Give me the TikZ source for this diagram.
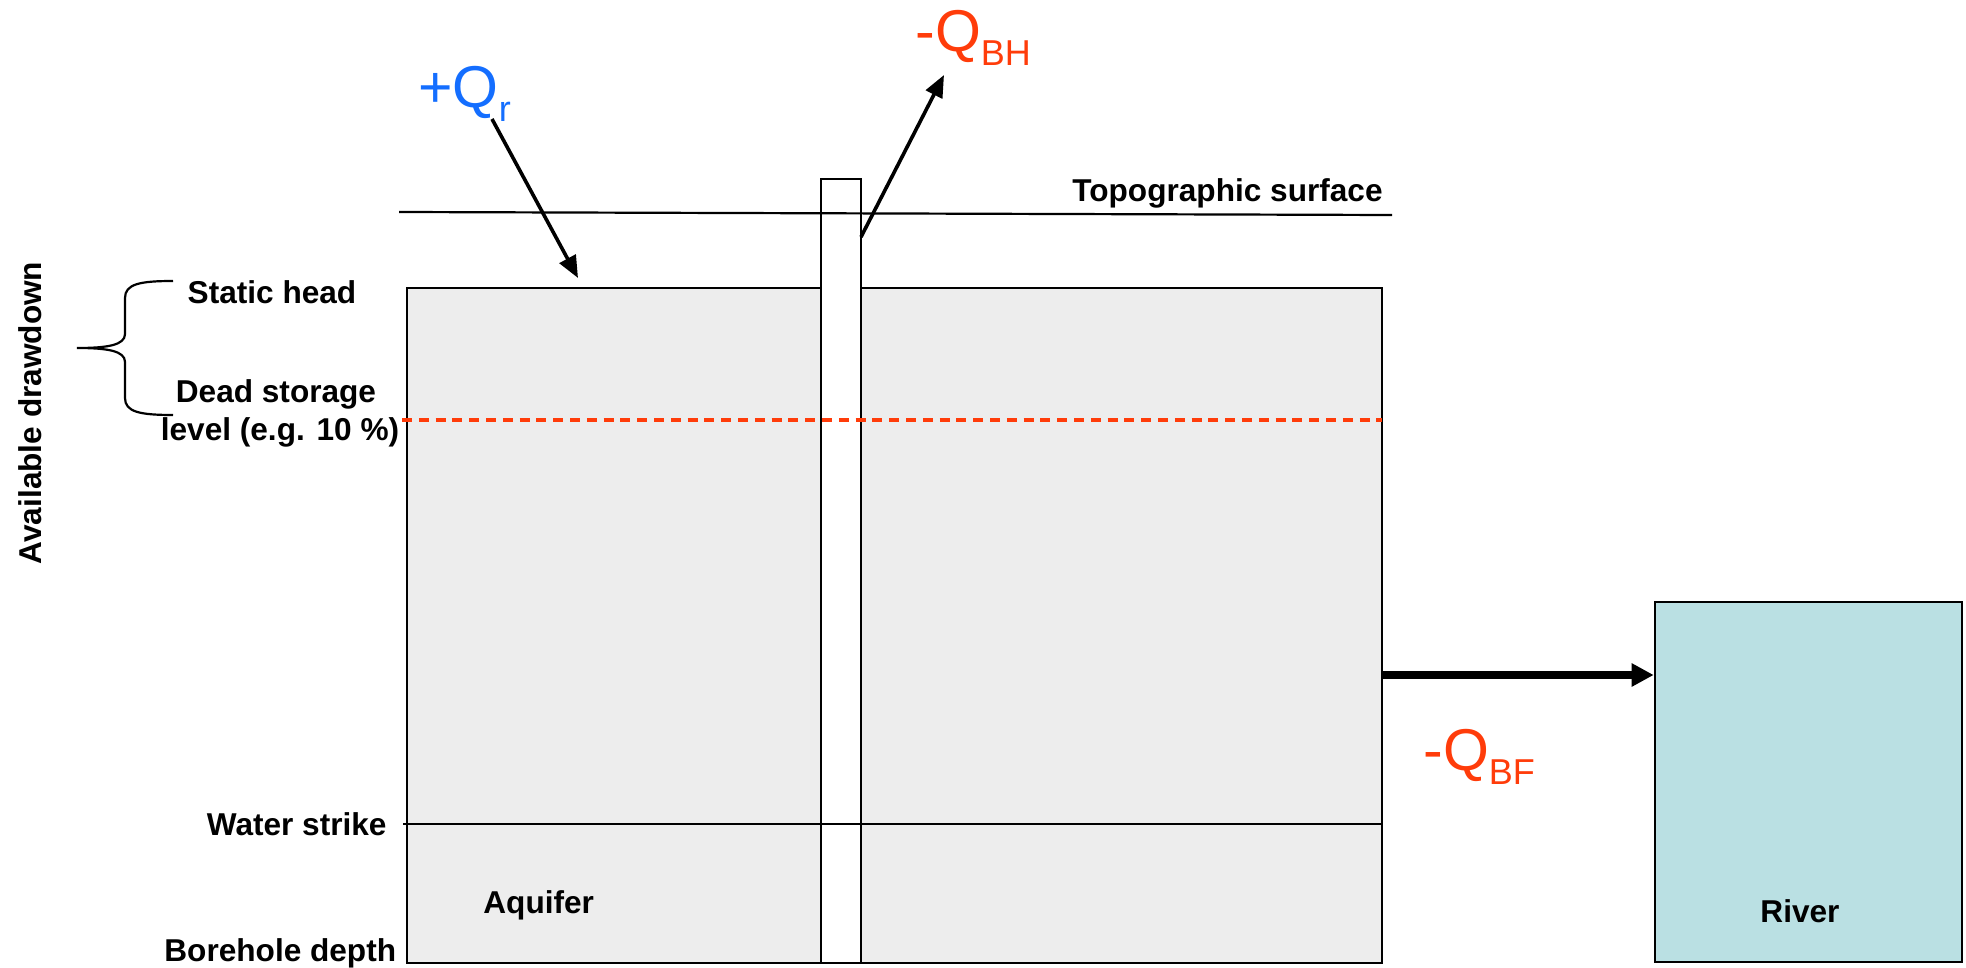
\documentclass[tikz,border=0pt]{standalone}
\usepackage{fontspec}
\setmainfont{Liberation Sans}
\usetikzlibrary{arrows.meta}
\definecolor{qblue}{RGB}{20,110,255}
\definecolor{qred}{RGB}{255,60,10}
\definecolor{riverfill}{RGB}{186,224,227}
\definecolor{aqfill}{RGB}{237,237,237}
\newcommand\qsub[1]{\raisebox{-7pt}{\fontsize{18}{20}\selectfont #1}}
\begin{document}
\begin{tikzpicture}[x=0.5pt,y=-0.5pt,
  lbl/.style={inner sep=0pt, font=\fontsize{15.8}{19}\selectfont\bfseries},
  qlbl/.style={inner sep=0pt, anchor=base west, font=\fontsize{29.5}{34}\selectfont},
  flow/.style={line width=1.8pt, -{Triangle[length=11pt,width=9pt]}},
  thinline/.style={line width=1.1pt},
  ]
\useasboundingbox (0,0) rectangle (1966,968);

% aquifer block
\node[draw, line width=1.2pt, fill=aqfill, minimum width=487.5pt, minimum height=337.5pt, inner sep=0pt] (aquifer) at (894.5,625.5) {};
% borehole
\node[draw, line width=1.1pt, fill=white, minimum width=20pt, minimum height=392pt, inner sep=0pt] (borehole) at (841,571) {};
% river
\node[draw, line width=1.3pt, fill=riverfill, minimum width=153.5pt, minimum height=180pt, inner sep=0pt] (river) at (1808.5,782) {};

% lines
\coordinate (topoL) at (399,212);
\coordinate (topoR) at (1392,215);
\draw[thinline] (topoL) -- (topoR);
\coordinate (deadL) at (402,420);
\coordinate (deadR) at (1382,420);
\draw[qred, line width=1.75pt, dash pattern=on 5pt off 3.4pt] (deadL) -- (deadR);
\coordinate (wsL) at (403,824);
\coordinate (wsR) at (1382,824);
\draw[thinline] (wsL) -- (wsR);

% labels
\node[lbl, anchor=base east] (topo) at (1383,202) {Topographic surface};
\node[lbl, anchor=base] (static) at (272,304) {Static head};
\node[lbl, anchor=base] (dead1) at (276,402) {Dead storage};
\node[lbl, anchor=base] (dead2) at (280,440) {level (e.g. 10 \%)};
\node[lbl, anchor=base east] (wstrike) at (387,835) {Water strike};
\node[lbl, anchor=base west] (bdepth) at (164,961) {Borehole depth};
\node[lbl, anchor=base west] (aqlbl) at (483,913) {Aquifer};
\node[lbl, anchor=base] (rivlbl) at (1800,922) {River};
\node[lbl, anchor=base, rotate=90] (avail) at (41,413) {Available drawdown};

% brace
\draw[thinline] (173,281) .. controls (140,281) and (125,284) .. (125,298) -- (125,334)
  .. controls (125,345) and (108,348) .. (77,348)
  .. controls (108,348) and (125,351) .. (125,362) -- (125,398)
  .. controls (125,412) and (140,415) .. (173,415);

% flux labels
\node[qlbl, text=qblue] (qr) at (418,108) {+Q\qsub{r}};
\node[qlbl, text=qred] (qbh) at (915,52) {-Q\qsub{BH}};
\node[qlbl, text=qred] (qbf) at (1423,770) {-Q\qsub{BF}};

% arrows
\coordinate (qrs) at (492,119);
\coordinate (qre) at (578,278);
\draw[flow] (qrs) -- (qre);
\coordinate (bhs) at (861,237);
\coordinate (bhe) at (944,75);
\draw[flow] (bhs) -- (bhe);
\coordinate (bfs) at (1382,675);
\draw[line width=4pt, -{Triangle[length=11pt,width=11pt]}] (bfs) -- (river.west |- bfs);
\end{tikzpicture}
\end{document}
